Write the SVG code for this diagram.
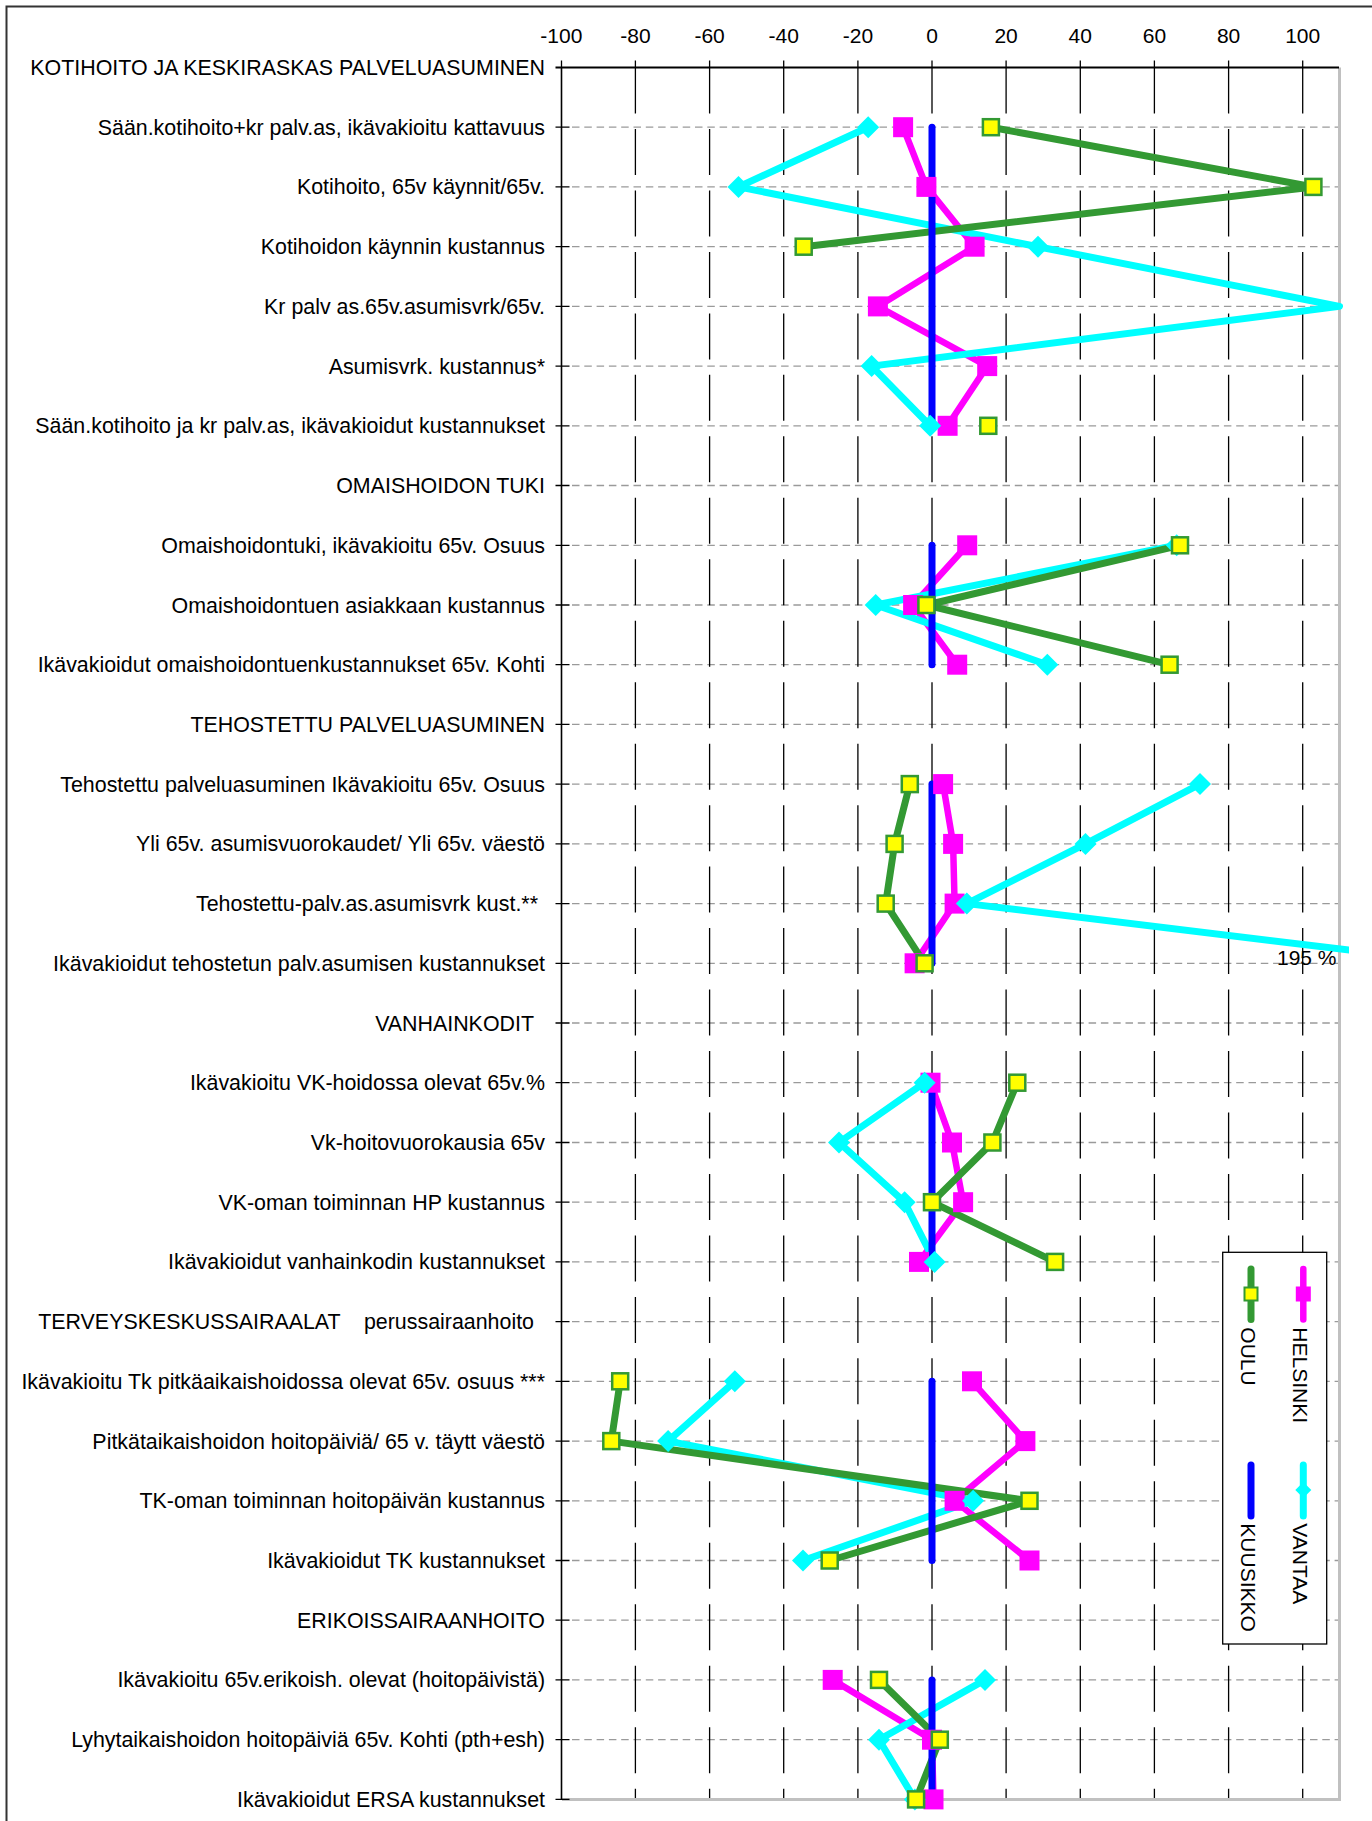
<svg xmlns="http://www.w3.org/2000/svg" width="1372" height="1821" viewBox="0 0 1372 1821">
<style>
text{font-family:"Liberation Sans",Arial,sans-serif;font-size:21px;fill:#000}
.cat{text-anchor:end;font-size:21.4px}
.tick{text-anchor:middle}
.hg{stroke:#9a9a9a;stroke-width:1.3;stroke-dasharray:7.5 4.8;fill:none}
.vg{stroke:#000;stroke-width:1.3;stroke-dasharray:46 15.47;fill:none}
.ser{fill:none;stroke-linecap:round;stroke-linejoin:round}
.h{stroke:#ff00ff;stroke-width:6.5}
.v{stroke:#00ffff;stroke-width:7}
.o{stroke:#339933;stroke-width:7}
.k{stroke:#0000ff;stroke-width:7}
</style>
<defs>
<rect id="mH" x="-10" y="-10" width="20" height="20" fill="#ff00ff"/>
<path id="mV" d="M0,-11 L11,0 L0,11 L-11,0Z" fill="#00ffff"/>
<rect id="mO" x="-8" y="-8" width="16" height="16" fill="#ffff00" stroke="#339933" stroke-width="2.5"/>
<clipPath id="clipV"><rect x="0" y="0" width="1349" height="1821"/></clipPath>
</defs>
<rect x="0" y="0" width="1372" height="1821" fill="#fff"/>
<path d="M6.5,1821 V6.5 H1372" fill="none" stroke="#333" stroke-width="2"/>

<g id="axis-labels">
<text class="tick" x="561.3" y="42.7">-100</text>
<text class="tick" x="635.4" y="42.7">-80</text>
<text class="tick" x="709.6" y="42.7">-60</text>
<text class="tick" x="783.7" y="42.7">-40</text>
<text class="tick" x="857.9" y="42.7">-20</text>
<text class="tick" x="932" y="42.7">0</text>
<text class="tick" x="1006.1" y="42.7">20</text>
<text class="tick" x="1080.3" y="42.7">40</text>
<text class="tick" x="1154.4" y="42.7">60</text>
<text class="tick" x="1228.6" y="42.7">80</text>
<text class="tick" x="1302.7" y="42.7">100</text>
</g>

<g id="grid">
<g class="hg">
<path d="M572,127.2H1338M572,186.9H1338M572,246.7H1338M572,306.4H1338M572,366.1H1338M572,425.8H1338M572,485.5H1338M572,545.3H1338M572,605H1338M572,664.7H1338M572,724.4H1338M572,784.1H1338M572,843.9H1338M572,903.6H1338M572,963.3H1338M572,1023H1338M572,1082.7H1338M572,1142.5H1338M572,1202.2H1338M572,1261.9H1338M572,1321.6H1338M572,1381.3H1338M572,1441.1H1338M572,1500.8H1338M572,1560.5H1338M572,1620.2H1338M572,1679.9H1338M572,1739.7H1338"/>
</g>
<g class="vg">
<path d="M635.4,67.5V1800M709.6,67.5V1800M783.7,67.5V1800M857.9,67.5V1800M932,67.5V1800M1006.1,67.5V1800M1080.3,67.5V1800M1154.4,67.5V1800M1228.6,67.5V1800M1302.7,67.5V1800"/>
</g>
<path d="M561.5,60.5V67.5M635.4,60.5V67.5M709.6,60.5V67.5M783.7,60.5V67.5M857.9,60.5V67.5M932,60.5V67.5M1006.1,60.5V67.5M1080.3,60.5V67.5M1154.4,60.5V67.5M1228.6,60.5V67.5M1302.7,60.5V67.5" stroke="#000" stroke-width="1.3"/>
<path d="M562,1799.4H1339.5V67.5" fill="none" stroke="#c0c0c0" stroke-width="3"/>
<path d="M561.5,67.5V1800" stroke="#000" stroke-width="1.6"/>
<path d="M555.5,67.5H1339" stroke="#000" stroke-width="1.8"/>
<path d="M555.5,127.2h14M555.5,186.9h14M555.5,246.7h14M555.5,306.4h14M555.5,366.1h14M555.5,425.8h14M555.5,485.5h14M555.5,545.3h14M555.5,605h14M555.5,664.7h14M555.5,724.4h14M555.5,784.1h14M555.5,843.9h14M555.5,903.6h14M555.5,963.3h14M555.5,1023h14M555.5,1082.7h14M555.5,1142.5h14M555.5,1202.2h14M555.5,1261.9h14M555.5,1321.6h14M555.5,1381.3h14M555.5,1441.1h14M555.5,1500.8h14M555.5,1560.5h14M555.5,1620.2h14M555.5,1679.9h14M555.5,1739.7h14M555.5,1799.4h14" stroke="#000" stroke-width="1.3"/>
</g>

<g id="category-labels">
<text class="cat" x="545" y="75">KOTIHOITO JA KESKIRASKAS PALVELUASUMINEN</text>
<text class="cat" x="545" y="134.7">Sään.kotihoito+kr palv.as, ikävakioitu kattavuus</text>
<text class="cat" x="545" y="194.4">Kotihoito, 65v käynnit/65v.</text>
<text class="cat" x="545" y="254.2">Kotihoidon käynnin kustannus</text>
<text class="cat" x="545" y="313.9">Kr palv as.65v.asumisvrk/65v.</text>
<text class="cat" x="545" y="373.6">Asumisvrk. kustannus*</text>
<text class="cat" x="545" y="433.3">Sään.kotihoito ja kr palv.as, ikävakioidut kustannukset</text>
<text class="cat" x="545" y="493">OMAISHOIDON TUKI</text>
<text class="cat" x="545" y="552.8">Omaishoidontuki, ikävakioitu 65v. Osuus</text>
<text class="cat" x="545" y="612.5">Omaishoidontuen asiakkaan kustannus</text>
<text class="cat" x="545" y="672.2">Ikävakioidut omaishoidontuenkustannukset 65v. Kohti</text>
<text class="cat" x="545" y="731.9">TEHOSTETTU PALVELUASUMINEN</text>
<text class="cat" x="545" y="791.6">Tehostettu palveluasuminen Ikävakioitu 65v. Osuus</text>
<text class="cat" x="545" y="851.4">Yli 65v. asumisvuorokaudet/ Yli 65v. väestö</text>
<text class="cat" x="538" y="911.1">Tehostettu-palv.as.asumisvrk kust.**</text>
<text class="cat" x="545" y="970.8">Ikävakioidut tehostetun palv.asumisen kustannukset</text>
<text class="cat" x="534" y="1030.5">VANHAINKODIT</text>
<text class="cat" x="545" y="1090.2">Ikävakioitu VK-hoidossa olevat 65v.%</text>
<text class="cat" x="545" y="1150">Vk-hoitovuorokausia 65v</text>
<text class="cat" x="545" y="1209.7">VK-oman toiminnan HP kustannus</text>
<text class="cat" x="545" y="1269.4">Ikävakioidut vanhainkodin kustannukset</text>
<text class="cat" x="534" y="1329.1" xml:space="preserve" style="white-space:pre">TERVEYSKESKUSSAIRAALAT    perussairaanhoito</text>
<text class="cat" x="545" y="1388.8">Ikävakioitu Tk pitkäaikaishoidossa olevat 65v. osuus ***</text>
<text class="cat" x="545" y="1448.6">Pitkätaikaishoidon hoitopäiviä/ 65 v. täytt väestö</text>
<text class="cat" x="545" y="1508.3">TK-oman toiminnan hoitopäivän kustannus</text>
<text class="cat" x="545" y="1568">Ikävakioidut TK kustannukset</text>
<text class="cat" x="545" y="1627.7">ERIKOISSAIRAANHOITO</text>
<text class="cat" x="545" y="1687.4">Ikävakioitu 65v.erikoish. olevat (hoitopäivistä)</text>
<text class="cat" x="545" y="1747.2">Lyhytaikaishoidon hoitopäiviä 65v. Kohti (pth+esh)</text>
<text class="cat" x="545" y="1806.9">Ikävakioidut ERSA kustannukset</text>
</g>

<g id="connectors">
<g id="helsinki-lines" class="ser h">
<polyline points="903.1,127.2 926.4,186.9 974.6,246.7 877.9,306.4 987.2,366.1 947.6,425.8"/>
<polyline points="967.2,545.3 913.1,605 957.2,664.7"/>
<polyline points="943.1,784.1 953.1,843.9 954.6,903.6 914.6,963.3"/>
<polyline points="930.5,1082.7 952,1142.5 963.1,1202.2 919,1261.9"/>
<polyline points="972,1381.3 1025.4,1441.1 954.6,1500.8 1029.5,1560.5"/>
<polyline points="832.7,1679.9 932,1739.7 933.5,1799.4"/>
</g>
<g id="vantaa-lines" class="ser v" clip-path="url(#clipV)">
<polyline points="868.2,127.2 738.5,186.9 1038,246.7 1339.5,306.4 871.6,366.1 930.1,425.8"/>
<polyline points="1176.7,545.3 875.7,605 1047.3,664.7"/>
<polyline points="1200,784.1 1085.5,843.9 966.8,903.6 1400,956.3"/>
<polyline points="924.6,1082.7 839,1142.5 904.6,1202.2 934.6,1261.9"/>
<polyline points="734.8,1381.3 668.1,1441.1 973.1,1500.8 803,1560.5"/>
<polyline points="985,1679.9 879,1739.7 914.9,1799.4"/>
</g>
<g id="oulu-lines" class="ser o">
<polyline points="990.9,127.2 1313.4,186.9 803.7,246.7"/>
<polyline points="1180,545.3 926.4,605 1169.6,664.7"/>
<polyline points="909.8,784.1 894.6,843.9 885.7,903.6 924.6,963.3"/>
<polyline points="1017.3,1082.7 992.4,1142.5 932,1202.2 1055.1,1261.9"/>
<polyline points="620.2,1381.3 611.3,1441.1 1029.5,1500.8 829.7,1560.5"/>
<polyline points="879,1679.9 939.8,1739.7 916.1,1799.4"/>
</g>
<g id="kuusikko-lines" class="ser k">
<path d="M932,127.2V425.8M932,545.3V664.7M932,784.1V963.3M932,1082.7V1261.9M932,1381.3V1560.5M932,1679.9V1799.4"/>
</g>
</g>

<g id="helsinki-markers">
<use href="#mH" x="903.1" y="127.2"/><use href="#mH" x="926.4" y="186.9"/><use href="#mH" x="974.6" y="246.7"/><use href="#mH" x="877.9" y="306.4"/><use href="#mH" x="987.2" y="366.1"/><use href="#mH" x="947.6" y="425.8"/>
<use href="#mH" x="967.2" y="545.3"/><use href="#mH" x="913.1" y="605"/><use href="#mH" x="957.2" y="664.7"/>
<use href="#mH" x="943.1" y="784.1"/><use href="#mH" x="953.1" y="843.9"/><use href="#mH" x="954.6" y="903.6"/><use href="#mH" x="914.6" y="963.3"/>
<use href="#mH" x="930.5" y="1082.7"/><use href="#mH" x="952" y="1142.5"/><use href="#mH" x="963.1" y="1202.2"/><use href="#mH" x="919" y="1261.9"/>
<use href="#mH" x="972" y="1381.3"/><use href="#mH" x="1025.4" y="1441.1"/><use href="#mH" x="954.6" y="1500.8"/><use href="#mH" x="1029.5" y="1560.5"/>
<use href="#mH" x="832.7" y="1679.9"/><use href="#mH" x="932" y="1739.7"/><use href="#mH" x="933.5" y="1799.4"/>
</g>
<g id="vantaa-markers">
<use href="#mV" x="868.2" y="127.2"/><use href="#mV" x="738.5" y="186.9"/><use href="#mV" x="1038" y="246.7"/><use href="#mV" x="871.6" y="366.1"/><use href="#mV" x="930.1" y="425.8"/>
<use href="#mV" x="1176.7" y="545.3"/><use href="#mV" x="875.7" y="605"/><use href="#mV" x="1047.3" y="664.7"/>
<use href="#mV" x="1200" y="784.1"/><use href="#mV" x="1085.5" y="843.9"/><use href="#mV" x="966.8" y="903.6"/>
<use href="#mV" x="924.6" y="1082.7"/><use href="#mV" x="839" y="1142.5"/><use href="#mV" x="904.6" y="1202.2"/><use href="#mV" x="934.6" y="1261.9"/>
<use href="#mV" x="734.8" y="1381.3"/><use href="#mV" x="668.1" y="1441.1"/><use href="#mV" x="973.1" y="1500.8"/><use href="#mV" x="803" y="1560.5"/>
<use href="#mV" x="985" y="1679.9"/><use href="#mV" x="879" y="1739.7"/><use href="#mV" x="914.9" y="1799.4"/>
</g>
<g id="oulu-markers">
<use href="#mO" x="990.9" y="127.2"/><use href="#mO" x="1313.4" y="186.9"/><use href="#mO" x="803.7" y="246.7"/><use href="#mO" x="988.3" y="425.8"/>
<use href="#mO" x="1180" y="545.3"/><use href="#mO" x="926.4" y="605"/><use href="#mO" x="1169.6" y="664.7"/>
<use href="#mO" x="909.8" y="784.1"/><use href="#mO" x="894.6" y="843.9"/><use href="#mO" x="885.7" y="903.6"/><use href="#mO" x="924.6" y="963.3"/>
<use href="#mO" x="1017.3" y="1082.7"/><use href="#mO" x="992.4" y="1142.5"/><use href="#mO" x="932" y="1202.2"/><use href="#mO" x="1055.1" y="1261.9"/>
<use href="#mO" x="620.2" y="1381.3"/><use href="#mO" x="611.3" y="1441.1"/><use href="#mO" x="1029.5" y="1500.8"/><use href="#mO" x="829.7" y="1560.5"/>
<use href="#mO" x="879" y="1679.9"/><use href="#mO" x="939.8" y="1739.7"/><use href="#mO" x="916.1" y="1799.4"/>
</g>

<g id="label-195">
<text x="1277" y="965">195 %</text>
</g>

<g id="legend">
<rect x="1222.7" y="1252.3" width="104" height="391.7" fill="#fff" stroke="#000" stroke-width="1.3"/>
<g id="legend-helsinki">
<path d="M1303.3,1269V1319.5" class="ser h" stroke-width="7"/>
<rect x="1295.8" y="1286.5" width="15" height="15" fill="#ff00ff"/>
<text transform="translate(1292.7,1327.3) rotate(90)">HELSINKI</text>
</g>
<g id="legend-oulu">
<path d="M1251,1269V1319.5" class="ser o"/>
<rect x="1244.5" y="1287.5" width="13" height="13" fill="#ffff00" stroke="#339933" stroke-width="2"/>
<text transform="translate(1240.7,1327.3) rotate(90)">OULU</text>
</g>
<g id="legend-vantaa">
<path d="M1303.3,1465V1516" class="ser v"/>
<path d="M1303.3,1482 L1311.3,1490 L1303.3,1498 L1295.3,1490Z" fill="#00ffff"/>
<text transform="translate(1292.7,1523.3) rotate(90)">VANTAA</text>
</g>
<g id="legend-kuusikko">
<path d="M1251,1465V1516" class="ser k"/>
<text transform="translate(1240.7,1523.3) rotate(90)">KUUSIKKO</text>
</g>
</g>
</svg>
